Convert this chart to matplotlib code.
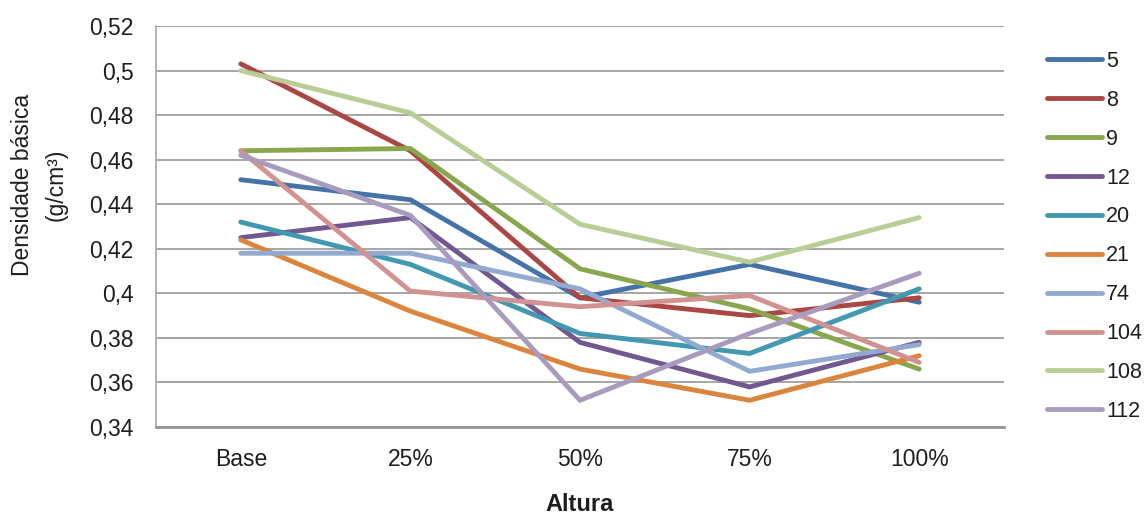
import matplotlib
matplotlib.use("Agg")
import matplotlib.pyplot as plt
from matplotlib.ticker import FixedLocator, FuncFormatter

# Alturas ao longo do fuste
alturas = ["Base", "25%", "50%", "75%", "100%"]

# Densidade básica (g/cm³) por árvore
arvores = ["5", "8", "9", "12", "20", "21", "74", "104", "108", "112"]
d5 = [0.451, 0.442, 0.398, 0.413, 0.396]
d8 = [0.503, 0.464, 0.398, 0.390, 0.398]
d9 = [0.464, 0.465, 0.411, 0.393, 0.366]
d12 = [0.425, 0.434, 0.378, 0.358, 0.378]
d20 = [0.432, 0.413, 0.382, 0.373, 0.402]
d21 = [0.424, 0.392, 0.366, 0.352, 0.372]
d74 = [0.418, 0.418, 0.402, 0.365, 0.377]
d104 = [0.464, 0.401, 0.394, 0.399, 0.369]
d108 = [0.500, 0.481, 0.431, 0.414, 0.434]
d112 = [0.462, 0.435, 0.352, 0.382, 0.409]
series = [d5, d8, d9, d12, d20, d21, d74, d104, d108, d112]

cores = ["#4572A7", "#AA4643", "#89A54E", "#71588F", "#4198AF",
         "#DB843D", "#93A9CF", "#D19392", "#B9CD96", "#A99BBD"]

plt.rcParams["font.family"] = ["Liberation Sans", "DejaVu Sans"]
TXT = "#1E1E1E"

fig = plt.figure(figsize=(11.47, 5.14), dpi=100)
ax = fig.add_axes([156 / 1147, 87 / 514, 848 / 1147, 401 / 514])

x = list(range(len(alturas)))
for nome, vals, cor in zip(arvores, series, cores):
    ax.plot(x, vals, color=cor, lw=3.5, solid_capstyle="round",
            solid_joinstyle="miter", label=nome)

ax.set_xlim(-0.5, len(alturas) - 0.5)
ax.set_ylim(0.34, 0.52)
ax.yaxis.set_major_locator(FixedLocator([0.34 + 0.02 * i for i in range(10)]))
ax.yaxis.set_major_formatter(FuncFormatter(
    lambda v, p: ("%.2f" % v).rstrip("0").replace(".", ",")))
ax.set_xticks(x)
ax.set_xticklabels(alturas)

ax.grid(axis="y", color="#A6A6A6", lw=1.4)
ax.set_axisbelow(True)
for s in ["top", "right"]:
    ax.spines[s].set_visible(False)
ax.spines["left"].set_color("#A6A6A6")
ax.spines["left"].set_linewidth(1.2)
ax.spines["bottom"].set_color("#969696")
ax.spines["bottom"].set_linewidth(2.0)
ax.tick_params(axis="both", length=0, labelsize=16.5, colors=TXT)
ax.tick_params(axis="y", pad=16)
ax.tick_params(axis="x", pad=15)

ax.set_xlabel("Altura", fontsize=17, fontweight="bold",
              labelpad=16, color=TXT)

fig.text(23 / 1147, 1 - 185 / 514, "Densidade básica", rotation=90,
         fontsize=16.5, ha="center", va="center", color=TXT)
fig.text(56 / 1147, 1 - 185 / 514, "(g/cm³)", rotation=90,
         fontsize=16.5, ha="center", va="center", color=TXT)

leg = ax.legend(loc="upper left", bbox_to_anchor=(1047 / 1147, 1 - 51 / 514),
                bbox_transform=fig.transFigure, frameon=False, fontsize=15.5,
                handlelength=2.55, handletextpad=0.2, labelspacing=0.83,
                borderpad=0, borderaxespad=0)
for t in leg.get_texts():
    t.set_color(TXT)

fig.savefig("out.png", dpi=100)
